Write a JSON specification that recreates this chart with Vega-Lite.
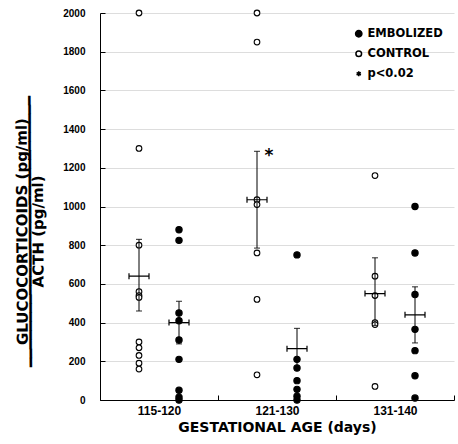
{
  "$schema": "https://vega.github.io/schema/vega-lite/v6.json",
  "width": 354,
  "height": 387,
  "autosize": "none",
  "padding": {"left": 100, "top": 13, "right": 4, "bottom": 44},
  "background": "white",
  "config": {
    "view": {"stroke": null},
    "font": "DejaVu Sans",
    "axis": {"zindex": 1},
    "axisY": {
      "labelOverlap": false,
      "ticks": true,
      "tickSize": -5,
      "tickColor": "black",
      "tickWidth": 1,
      "grid": true,
      "gridColor": "#dddddd",
      "gridWidth": 1,
      "domainColor": "black",
      "labelPadding": 20,
      "labelFont": "Liberation Sans",
      "labelFontWeight": "bold",
      "labelFontSize": 10,
      "labelColor": "black",
      "titleFont": "DejaVu Sans",
      "titleFontSize": 15,
      "titleFontWeight": "bold",
      "titleLineHeight": 8,
      "titleColor": "black",
      "titlePadding": 17,
      "titleY": 218,
      "titleAngle": 269.7
    }
  },
  "datasets": {
    "points": [
      {"age": "115-120", "group": "CONTROL", "value": 2000},
      {"age": "115-120", "group": "CONTROL", "value": 1300},
      {"age": "115-120", "group": "CONTROL", "value": 800},
      {"age": "115-120", "group": "CONTROL", "value": 560},
      {"age": "115-120", "group": "CONTROL", "value": 540},
      {"age": "115-120", "group": "CONTROL", "value": 530},
      {"age": "115-120", "group": "CONTROL", "value": 300},
      {"age": "115-120", "group": "CONTROL", "value": 270},
      {"age": "115-120", "group": "CONTROL", "value": 230},
      {"age": "115-120", "group": "CONTROL", "value": 190},
      {"age": "115-120", "group": "CONTROL", "value": 160},
      {"age": "115-120", "group": "EMBOLIZED", "value": 880},
      {"age": "115-120", "group": "EMBOLIZED", "value": 825},
      {"age": "115-120", "group": "EMBOLIZED", "value": 450},
      {"age": "115-120", "group": "EMBOLIZED", "value": 410},
      {"age": "115-120", "group": "EMBOLIZED", "value": 310},
      {"age": "115-120", "group": "EMBOLIZED", "value": 210},
      {"age": "115-120", "group": "EMBOLIZED", "value": 50},
      {"age": "115-120", "group": "EMBOLIZED", "value": 15},
      {"age": "115-120", "group": "EMBOLIZED", "value": 0},
      {"age": "121-130", "group": "CONTROL", "value": 2000},
      {"age": "121-130", "group": "CONTROL", "value": 1850},
      {"age": "121-130", "group": "CONTROL", "value": 1035},
      {"age": "121-130", "group": "CONTROL", "value": 1010},
      {"age": "121-130", "group": "CONTROL", "value": 760},
      {"age": "121-130", "group": "CONTROL", "value": 520},
      {"age": "121-130", "group": "CONTROL", "value": 130},
      {"age": "121-130", "group": "EMBOLIZED", "value": 750},
      {"age": "121-130", "group": "EMBOLIZED", "value": 210},
      {"age": "121-130", "group": "EMBOLIZED", "value": 165},
      {"age": "121-130", "group": "EMBOLIZED", "value": 100},
      {"age": "121-130", "group": "EMBOLIZED", "value": 55},
      {"age": "121-130", "group": "EMBOLIZED", "value": 20},
      {"age": "121-130", "group": "EMBOLIZED", "value": 0},
      {"age": "131-140", "group": "CONTROL", "value": 1160},
      {"age": "131-140", "group": "CONTROL", "value": 640},
      {"age": "131-140", "group": "CONTROL", "value": 540},
      {"age": "131-140", "group": "CONTROL", "value": 400},
      {"age": "131-140", "group": "CONTROL", "value": 390},
      {"age": "131-140", "group": "CONTROL", "value": 70},
      {"age": "131-140", "group": "EMBOLIZED", "value": 1000},
      {"age": "131-140", "group": "EMBOLIZED", "value": 760},
      {"age": "131-140", "group": "EMBOLIZED", "value": 545},
      {"age": "131-140", "group": "EMBOLIZED", "value": 365},
      {"age": "131-140", "group": "EMBOLIZED", "value": 255},
      {"age": "131-140", "group": "EMBOLIZED", "value": 125},
      {"age": "131-140", "group": "EMBOLIZED", "value": 10}
    ],
    "summary": [
      {"age": "115-120", "group": "CONTROL", "mean": 640, "lo": 460, "hi": 830},
      {"age": "115-120", "group": "EMBOLIZED", "mean": 400, "lo": 290, "hi": 510},
      {"age": "121-130", "group": "CONTROL", "mean": 1035, "lo": 785, "hi": 1285},
      {"age": "121-130", "group": "EMBOLIZED", "mean": 265, "lo": 160, "hi": 370},
      {"age": "131-140", "group": "CONTROL", "mean": 550, "lo": 385, "hi": 735},
      {"age": "131-140", "group": "EMBOLIZED", "mean": 440, "lo": 295, "hi": 585}
    ],
    "note": [
      {"age": "121-130", "group": "CONTROL", "value": 1290, "label": "*"}
    ]
  },
  "encoding": {
    "x": {
      "field": "age",
      "type": "nominal",
      "sort": ["115-120", "121-130", "131-140"],
      "scale": {"paddingInner": 0, "paddingOuter": 0},
      "title": "GESTATIONAL AGE (days)",
      "axis": {
        "tickBand": "extent",
        "ticks": true,
        "tickSize": -5,
        "tickColor": "black",
        "tickWidth": 1,
        "grid": false,
        "domainColor": "black",
        "labelAngle": 0,
        "labelPadding": 10,
        "labelFont": "Liberation Sans",
        "labelFontWeight": "bold",
        "labelFontSize": 12,
        "labelColor": "black",
        "titleFont": "DejaVu Sans",
        "titleFontSize": 14,
        "titleFontWeight": "bold",
        "titleColor": "black",
        "titlePadding": 4
      }
    },
    "xOffset": {
      "field": "group",
      "type": "nominal",
      "scale": {"type": "point", "padding": 0.975, "domain": ["CONTROL", "EMBOLIZED"]}
    }
  },
  "layer": [
    {
      "data": {"name": "points"},
      "mark": {"type": "point", "filled": true, "stroke": "black", "strokeWidth": 1.1, "opacity": 1},
      "encoding": {
        "y": {
          "field": "value",
          "type": "quantitative",
          "scale": {"domain": [0, 2000], "nice": false},
          "axis": {
            "values": [0, 200, 400, 600, 800, 1000, 1200, 1400, 1600, 1800, 2000],
            "format": "d",
            "grid": true,
            "labelOverlap": false,
            "title": ["GLUCOCORTICOIDS (pg/ml)", "━━━━━━━━━━━━━━━━━━━━━━━━━━━━━━", "ACTH (pg/ml)"]
          }
        },
        "shape": {
          "field": "group",
          "type": "nominal",
          "scale": {
            "domain": ["EMBOLIZED", "CONTROL", "p<0.02"],
            "range": ["circle", "circle", "M0,-1L0,1M-0.87,-0.5L0.87,0.5M-0.87,0.5L0.87,-0.5"]
          },
          "legend": {
            "title": null,
            "orient": "none",
            "legendX": 253,
            "legendY": 15,
            "padding": 0,
            "rowPadding": 7,
            "labelFont": "DejaVu Sans",
            "labelFontSize": 11.5,
            "labelFontWeight": "bold",
            "labelColor": "black",
            "labelOffset": 3,
            "encode": {"symbols": {"update": {"stroke": {"value": "black"}, "strokeWidth": {"value": 1.4}}}}
          }
        },
        "fill": {
          "field": "group",
          "type": "nominal",
          "scale": {"domain": ["EMBOLIZED", "CONTROL", "p<0.02"], "range": ["black", "white", "black"]},
          "legend": {
            "title": null,
            "orient": "none",
            "legendX": 253,
            "legendY": 15,
            "padding": 0,
            "rowPadding": 7,
            "labelFont": "DejaVu Sans",
            "labelFontSize": 11.5,
            "labelFontWeight": "bold",
            "labelColor": "black",
            "labelOffset": 3,
            "encode": {"symbols": {"update": {"stroke": {"value": "black"}, "strokeWidth": {"value": 1.4}}}}
          }
        },
        "size": {
          "field": "group",
          "type": "nominal",
          "scale": {"domain": ["EMBOLIZED", "CONTROL", "p<0.02"], "range": [40, 24, 110]},
          "legend": {
            "title": null,
            "orient": "none",
            "legendX": 253,
            "legendY": 15,
            "padding": 0,
            "rowPadding": 7,
            "labelFont": "DejaVu Sans",
            "labelFontSize": 11.5,
            "labelFontWeight": "bold",
            "labelColor": "black",
            "labelOffset": 3,
            "encode": {"symbols": {"update": {"stroke": {"value": "black"}, "strokeWidth": {"value": 1.4}}}}
          }
        }
      }
    },
    {
      "data": {"name": "summary"},
      "mark": {"type": "rule", "color": "black", "strokeWidth": 1},
      "encoding": {
        "y": {"field": "lo", "type": "quantitative", "axis": {"values": [0, 200, 400, 600, 800, 1000, 1200, 1400, 1600, 1800, 2000], "format": "d", "grid": true, "labelOverlap": false, "title": ["GLUCOCORTICOIDS (pg/ml)", "━━━━━━━━━━━━━━━━━━━━━━━━━━━━━━", "ACTH (pg/ml)"]}},
        "y2": {"field": "hi"}
      }
    },
    {
      "data": {"name": "summary"},
      "mark": {"type": "tick", "color": "black", "size": 6, "thickness": 1.2},
      "encoding": {"y": {"field": "lo", "type": "quantitative", "axis": {"values": [0, 200, 400, 600, 800, 1000, 1200, 1400, 1600, 1800, 2000], "format": "d", "grid": true, "labelOverlap": false, "title": ["GLUCOCORTICOIDS (pg/ml)", "━━━━━━━━━━━━━━━━━━━━━━━━━━━━━━", "ACTH (pg/ml)"]}}}
    },
    {
      "data": {"name": "summary"},
      "mark": {"type": "tick", "color": "black", "size": 6, "thickness": 1.2},
      "encoding": {"y": {"field": "hi", "type": "quantitative", "axis": {"values": [0, 200, 400, 600, 800, 1000, 1200, 1400, 1600, 1800, 2000], "format": "d", "grid": true, "labelOverlap": false, "title": ["GLUCOCORTICOIDS (pg/ml)", "━━━━━━━━━━━━━━━━━━━━━━━━━━━━━━", "ACTH (pg/ml)"]}}}
    },
    {
      "data": {"name": "summary"},
      "mark": {
        "type": "point",
        "shape": "M-1,0L1,0M-1,-0.3L-1,0.3M1,-0.3L1,0.3",
        "size": 400,
        "filled": false,
        "stroke": "black",
        "strokeWidth": 1.2,
        "opacity": 1
      },
      "encoding": {"y": {"field": "mean", "type": "quantitative", "axis": {"values": [0, 200, 400, 600, 800, 1000, 1200, 1400, 1600, 1800, 2000], "format": "d", "grid": true, "labelOverlap": false, "title": ["GLUCOCORTICOIDS (pg/ml)", "━━━━━━━━━━━━━━━━━━━━━━━━━━━━━━", "ACTH (pg/ml)"]}}}
    },
    {
      "data": {"name": "note"},
      "mark": {"type": "text", "font": "DejaVu Sans", "fontWeight": "bold", "fontSize": 17, "dx": 12, "dy": 6, "color": "black"},
      "encoding": {
        "y": {"field": "value", "type": "quantitative", "axis": {"values": [0, 200, 400, 600, 800, 1000, 1200, 1400, 1600, 1800, 2000], "format": "d", "grid": true, "labelOverlap": false, "title": ["GLUCOCORTICOIDS (pg/ml)", "━━━━━━━━━━━━━━━━━━━━━━━━━━━━━━", "ACTH (pg/ml)"]}},
        "text": {"field": "label"}
      }
    }
  ]
}
